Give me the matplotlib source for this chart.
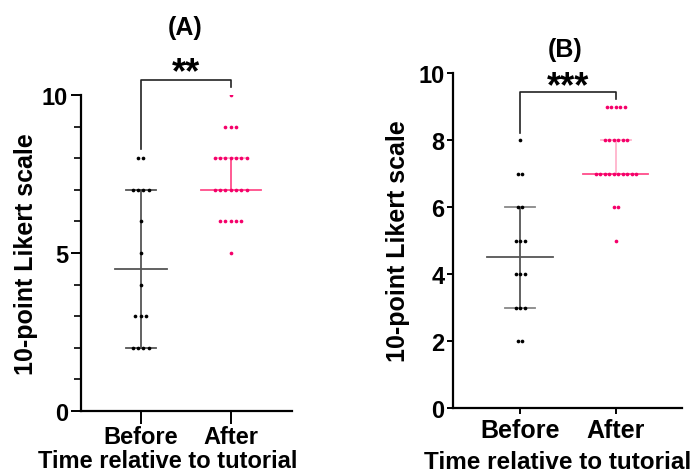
import matplotlib.pyplot as plt
import numpy as np

plt.rcParams["font.family"] = ["Liberation Sans", "DejaVu Sans"]
plt.rcParams["font.weight"] = "bold"

groups = ["Before", "After"]

# score -> number of participants, read from the dot rows
a_before = {8: 2, 7: 4, 6: 1, 5: 1, 4: 1, 3: 3, 2: 4}
a_after = {10: 1, 9: 3, 8: 7, 7: 7, 6: 5, 5: 1}
b_before = {8: 1, 7: 2, 6: 2, 5: 3, 4: 3, 3: 3, 2: 2}
b_after = {9: 5, 8: 6, 7: 10, 6: 2, 5: 1}

# centre line and bar ends (low, mid, high)
a_before_bar = (2, 4.5, 7)
a_after_bar = (7, 7, 8)
b_before_bar = (3, 4.5, 6)
b_after_bar = (7, 7, 8)

BLACK = "#000000"
PINK = "#F5006A"
PINK_LINE = "#FF4D8A"
PINK_LIGHT = "#FFB3CC"
GREY = "#555555"

FS = 18


def swarm(ax, x0, counts, spacing, color):
    for score, n in counts.items():
        xs = x0 + (np.arange(n) - (n - 1) / 2) * spacing
        ax.scatter(xs, [score] * n, s=7, color=color, zorder=3, linewidths=0)


def bars(ax, x0, bar, half_mid, half_cap, line_col, mid_col, cap_col):
    lo, mid, hi = bar
    ax.plot([x0, x0], [lo, hi], color=line_col, lw=1.3, zorder=2)
    ax.plot([x0 - half_mid, x0 + half_mid], [mid, mid], color=mid_col, lw=1.3, zorder=2)
    if hi != mid:
        ax.plot([x0 - half_cap, x0 + half_cap], [hi, hi], color=cap_col, lw=1.3, zorder=2)
    if lo != mid:
        ax.plot([x0 - half_cap, x0 + half_cap], [lo, lo], color=cap_col, lw=1.3, zorder=2)


def style(ax, xfs):
    for s in ["top", "right"]:
        ax.spines[s].set_visible(False)
    for s in ["left", "bottom"]:
        ax.spines[s].set_linewidth(1.6)
    ax.set_xticks([0, 1])
    ax.set_xticklabels(groups, fontsize=xfs, fontweight="bold")
    for lab in ax.get_yticklabels():
        lab.set_fontweight("bold")
    ax.tick_params(axis="y", labelsize=17)


fig = plt.figure(figsize=(6.97, 4.77), dpi=100)
W, H = 697, 477

# ---- panel A
axA = fig.add_axes([80.5 / W, 1 - 412 / H, (292 - 80.5) / W, (412 - 96) / H])
swarm(axA, 0, a_before, 0.059, BLACK)
swarm(axA, 1, a_after, 0.059, PINK)
bars(axA, 0, a_before_bar, 0.29, 0.17, GREY, GREY, GREY)
bars(axA, 1, a_after_bar, 0.33, 0.17, PINK_LINE, PINK_LINE, PINK_LIGHT)
axA.set_xlim(-0.67, 1.68)
axA.set_ylim(0, 10)
axA.set_yticks([0, 5, 10])
axA.set_yticks(range(11), minor=True)
style(axA, 17)
axA.tick_params(axis="y", which="major", length=7, width=1.4, pad=2)
axA.tick_params(axis="y", which="minor", length=5, width=1.2)
axA.tick_params(axis="x", length=9, width=1.4, pad=1)
axA.set_ylabel("10-point Likert scale", fontsize=FS, fontweight="bold", labelpad=3)
axA.set_xlabel("Time relative to tutorial", fontsize=17, fontweight="bold", labelpad=0.5, x=0.41)
axA.plot([0, 0, 1, 1], [8.3, 10.47, 10.47, 10.25], color="#222222", lw=1.2, clip_on=False)
axA.text(0.5, 10.42, "**", ha="center", va="baseline", fontsize=26, fontweight="bold")
fig.text(185 / W, 1 - 28 / H, "(A)", ha="center", va="center", fontsize=FS, fontweight="bold")

# ---- panel B
axB = fig.add_axes([453 / W, 1 - 409 / H, (682 - 453) / W, (409 - 74) / H])
swarm(axB, 0, b_before, 0.047, BLACK)
swarm(axB, 1, b_after, 0.047, PINK)
bars(axB, 0, b_before_bar, 0.34, 0.16, GREY, GREY, "#888888")
bars(axB, 1, b_after_bar, 0.34, 0.16, PINK_LIGHT, PINK_LINE, PINK_LIGHT)
axB.set_xlim(-0.70, 1.69)
axB.set_ylim(0, 10)
axB.set_yticks(range(0, 11, 2))
style(axB, FS)
axB.tick_params(axis="y", length=4, width=1.4, pad=2)
axB.tick_params(axis="x", length=4, width=1.4, pad=3)
axB.set_ylabel("10-point Likert scale", fontsize=FS, fontweight="bold", labelpad=6)
axB.set_xlabel("Time relative to tutorial", fontsize=17.5, fontweight="bold", labelpad=6, x=0.455)
axB.plot([0, 0, 1, 1], [8.2, 9.43, 9.43, 9.22], color="#222222", lw=1.2, clip_on=False)
axB.text(0.5, 9.3, "***", ha="center", va="baseline", fontsize=26, fontweight="bold")
fig.text(565 / W, 1 - 50 / H, "(B)", ha="center", va="center", fontsize=FS, fontweight="bold")

fig.savefig("out.png", dpi=100)
